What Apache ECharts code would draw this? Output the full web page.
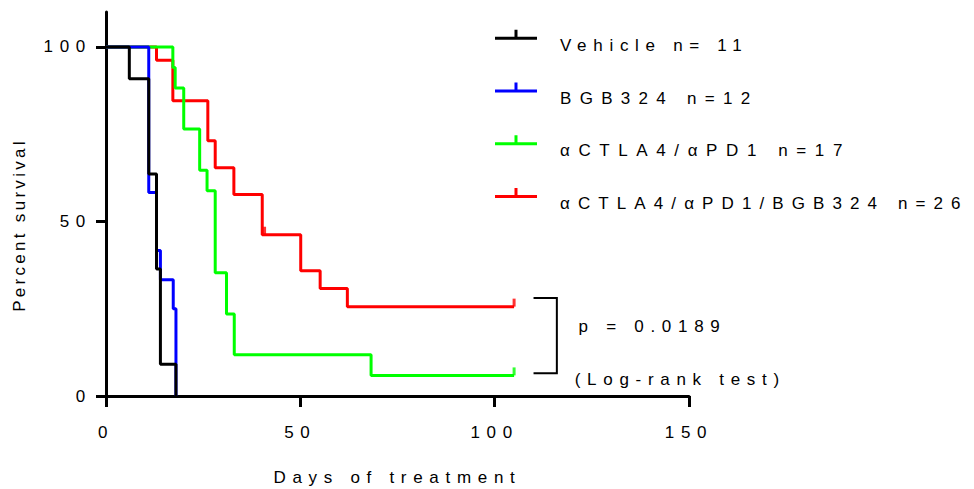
<!DOCTYPE html>
<html><head><meta charset="utf-8">
<script src="https://cdn.jsdelivr.net/npm/echarts@6/dist/echarts.min.js"></script>
<style>
html,body{margin:0;padding:0;background:#fff;}
#chart{width:974px;height:489px;}
#chart text{letter-spacing:3.3px;}
#chart text[style*="Arial"]{letter-spacing:6.7px;}
#chart text[style*="Arimo"]{letter-spacing:8.3px;}
#chart text[style*="Helvetica"]{letter-spacing:8.6px;}
#chart text[style*="Noto"]{letter-spacing:8.1px;}
</style></head><body><div id="chart"></div>
<script>
// ---- data ----
const seriesNames = ['Vehicle n= 11', 'BGB324 n=12', 'αCTLA4/αPD1 n=17', 'αCTLA4/αPD1/BGB324 n=26'];
const seriesColors = ['#000000', '#0000ff', '#00ff00', '#ff0000'];
const vehicleDays = [0, 6, 11, 13, 14, 18];
const vehicleSurv = [100, 90.9, 63.6, 36.4, 9.1, 0];
const bgbDays = [0, 11, 13, 14, 17.3, 18];
const bgbSurv = [100, 58.3, 41.7, 33.3, 25, 0];
const ctlaDays = [0, 17.2, 17.8, 20, 24.1, 26, 28.1, 31, 33, 68.2, 105];
const ctlaSurv = [100, 94.1, 88.2, 76.5, 64.7, 58.8, 35.3, 23.5, 11.8, 5.9, 5.9];
const comboDays = [0, 13, 17.2, 26.2, 28.1, 32.9, 40.2, 50.1, 55.1, 62.1, 105];
const comboSurv = [100, 96.2, 84.6, 73.1, 65.4, 57.7, 46.2, 35.9, 30.8, 25.6, 25.6];
const ctlaCensorDays = [105];
const ctlaCensorSurv = [5.9];
const comboCensorDays = [40.8, 105];
const comboCensorSurv = [46.2, 25.6];
const xTicks = [0, 50, 100, 150];
const yTicks = [0, 50, 100];
const xTitle = 'Days of treatment';
const yTitle = 'Percent survival';
const pText = 'p = 0.0189';
const testText = '(Log-rank test)';
// annotation anchors in data units
const bracketDays = [110, 116];
const bracketSurv = [28.1, 6.5];
const pTextAt = [121.6, 19.8];
const testTextAt = [120.6, 4.6];

const FONT = '"Liberation Sans", Arial, sans-serif';
// same typeface; the extra fallback names only select a different letter spacing in the CSS above
const FONT_B = '"Liberation Sans", Arial, Arimo, sans-serif';
const FONT_A = '"Liberation Sans", Arial, Helvetica, sans-serif';
const FONT_R = '"Liberation Sans", Arial, "Noto Sans", sans-serif';
const legendFonts = [FONT, FONT_B, FONT_A, FONT_R];
const zip = (a, b) => a.map((v, i) => [v, b[i]]);

const chart = echarts.init(document.getElementById('chart'), null, {renderer: 'svg'});

const curves = [
  {name: seriesNames[3], color: seriesColors[3], data: zip(comboDays, comboSurv)},
  {name: seriesNames[2], color: seriesColors[2], data: zip(ctlaDays, ctlaSurv)},
  {name: seriesNames[1], color: seriesColors[1], data: zip(bgbDays, bgbSurv)},
  {name: seriesNames[0], color: seriesColors[0], data: zip(vehicleDays, vehicleSurv)}
];
const series = curves.map(c => ({
  type: 'line', name: c.name, step: 'end', data: c.data,
  symbol: 'none', showSymbol: false, animation: false,
  color: c.color,
  lineStyle: {color: c.color, width: 3},
  itemStyle: {color: c.color},
  emphasis: {disabled: true}
}));
const censors = [
  {name: 'c-combo', color: seriesColors[3], data: zip(comboCensorDays, comboCensorSurv)},
  {name: 'c-ctla', color: seriesColors[2], data: zip(ctlaCensorDays, ctlaCensorSurv)}
];
censors.forEach(c => series.push({
  type: 'scatter', name: c.name, data: c.data, animation: false,
  symbol: 'path://M0,0h3v8h-3z', symbolSize: [3, 8], symbolOffset: [0, -4],
  itemStyle: {color: c.color}, emphasis: {disabled: true}, z: 3
}));

chart.setOption({
  animation: false,
  backgroundColor: '#fff',
  grid: {left: 106, right: 285, top: 12, bottom: 93, outerBoundsMode: 'none'},
  legend: {
    data: seriesNames.map((n, i) => ({name: n, textStyle: {fontFamily: legendFonts[i]}})),
    orient: 'vertical', left: 490, top: 24.8,
    itemWidth: 42, itemHeight: 31, itemGap: 21.7,
    // line with a censor tick above; the tiny sub-path at the bottom only extends the icon box
    icon: 'path://M0,7h42v3h-42z M19.5,0h3v7h-3z M0,31h0.01v0.001h-0.01z',
    itemStyle: {borderWidth: 0},
    textStyle: {fontSize: 17, color: '#000', fontFamily: FONT, padding: [0, 0, 0, 18]},
    selectedMode: false
  },
  xAxis: {
    type: 'value', min: xTicks[0], max: xTicks[xTicks.length - 1], interval: xTicks[1] - xTicks[0],
    axisLine: {show: true, onZero: false, lineStyle: {color: '#000', width: 3}},
    axisTick: {show: true, length: 11, lineStyle: {color: '#000', width: 3}},
    axisLabel: {fontSize: 17, color: '#000', fontFamily: FONT, margin: 28},
    splitLine: {show: false},
    name: xTitle, nameLocation: 'middle', nameGap: 73,
    nameTextStyle: {fontSize: 17, color: '#000', fontFamily: FONT}
  },
  yAxis: {
    type: 'value', min: 0, max: 110,
    axisLine: {show: true, onZero: false, lineStyle: {color: '#000', width: 3}},
    axisTick: {show: true, length: 10, customValues: yTicks, lineStyle: {color: '#000', width: 3}},
    axisLabel: {fontSize: 17, color: '#000', fontFamily: FONT, margin: 14, customValues: yTicks},
    splitLine: {show: false},
    name: yTitle, nameLocation: 'middle', nameGap: 78,
    nameTextStyle: {fontSize: 17, color: '#000', fontFamily: 'Liberation Sans', padding: [0, 42, 0, 0]}
  },
  series: series
});

const px = p => chart.convertToPixel({gridIndex: 0}, p);
const bTL = px([bracketDays[0], bracketSurv[0]]);
const bTR = px([bracketDays[1], bracketSurv[0]]);
const bBR = px([bracketDays[1], bracketSurv[1]]);
const bBL = px([bracketDays[0], bracketSurv[1]]);
const pPos = px(pTextAt);
const tPos = px(testTextAt);
chart.setOption({
  graphic: [
    {type: 'polyline', shape: {points: [bTL, bTR, bBR, bBL]}, style: {stroke: '#000', lineWidth: 2, fill: null}},
    {type: 'text', x: pPos[0], y: pPos[1], style: {text: pText, font: '17px ' + FONT, fill: '#000', verticalAlign: 'middle'}},
    {type: 'text', x: tPos[0], y: tPos[1], style: {text: testText, font: '17px ' + FONT, fill: '#000', verticalAlign: 'middle'}}
  ]
});
</script></body></html>
